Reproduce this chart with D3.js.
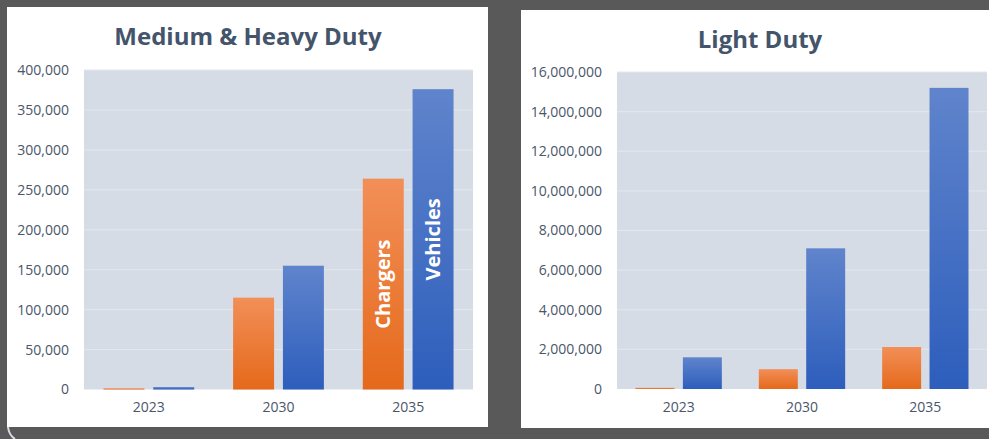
<!DOCTYPE html>
<html>
<head>
<meta charset="utf-8">
<script src="https://cdn.jsdelivr.net/npm/d3@7"></script>
<style>
  body { margin: 0; background: #595959; }
  svg { display: block; }
  text { font-family: "Open Sans", sans-serif; }
</style>
</head>
<body>
<div id="chart"></div>
<script>
// data
var years = ["2023", "2030", "2035"];
var series = ["Chargers", "Vehicles"];

var heavyChargers = [1500, 115000, 264000];
var heavyVehicles = [3000, 155000, 376000];
var heavyTicks = [0, 50000, 100000, 150000, 200000, 250000, 300000, 350000, 400000];

var lightChargers = [60000, 1000000, 2120000];
var lightVehicles = [1600000, 7100000, 15200000];
var lightTicks = [0, 2000000, 4000000, 6000000, 8000000, 10000000, 12000000, 14000000, 16000000];

var W = 989, H = 439;

var svg = d3.select("#chart").append("svg")
  .attr("width", W)
  .attr("height", H);

svg.append("rect").attr("width", W).attr("height", H).attr("fill", "#595959");

var defs = svg.append("defs");
function grad(id, top, bottom){
  var g = defs.append("linearGradient").attr("id", id)
    .attr("x1", 0).attr("y1", 0).attr("x2", 0).attr("y2", 1);
  g.append("stop").attr("offset", "0%").attr("stop-color", top);
  g.append("stop").attr("offset", "100%").attr("stop-color", bottom);
}
grad("grad-orange", "#F28F58", "#E5691A");
grad("grad-blue", "#6084CC", "#2D5EBC");
var fills = { Chargers: "url(#grad-orange)", Vehicles: "url(#grad-blue)" };

// little leftover corner at bottom left
svg.append("path")
  .attr("d", "M8,427 Q9,435 15,439")
  .attr("fill", "none")
  .attr("stroke", "#D6DCE5")
  .attr("stroke-width", 2);

function drawPanel(cfg){
  var g = svg.append("g");

  g.append("rect")
    .attr("x", cfg.panel[0]).attr("y", cfg.panel[1])
    .attr("width", cfg.panel[2]).attr("height", cfg.panel[3])
    .attr("fill", "#ffffff");

  var x = d3.scaleBand().domain(years).range([cfg.left, cfg.right]).padding(0);
  var y = d3.scaleLinear().domain([0, cfg.max]).range([cfg.bottom, cfg.top]);

  g.append("rect")
    .attr("x", cfg.left).attr("y", cfg.top)
    .attr("width", cfg.right - cfg.left).attr("height", cfg.bottom - cfg.top)
    .attr("fill", "#D6DCE5");

  g.selectAll(".grid")
    .data(cfg.ticks.slice(1))
    .enter().append("line")
    .attr("class", "grid")
    .attr("x1", cfg.left).attr("x2", cfg.right)
    .attr("y1", function(d){ return y(d); })
    .attr("y2", function(d){ return y(d); })
    .attr("stroke", "#E3E7EE")
    .attr("stroke-width", 1);

  g.append("text")
    .attr("x", cfg.titleX).attr("y", cfg.titleY)
    .attr("text-anchor", "middle")
    .attr("font-size", "24px")
    .attr("font-weight", "bold")
    .attr("fill", "#44546A")
    .text(cfg.title);

  // y axis labels
  var yAxis = g.append("g")
    .attr("transform", "translate(" + cfg.labelX + ",0)")
    .call(d3.axisLeft(y).tickValues(cfg.ticks).tickSize(0).tickPadding(0).tickFormat(d3.format(",")));
  yAxis.select(".domain").remove();
  yAxis.selectAll("text")
    .attr("font-family", "'Open Sans', sans-serif")
    .attr("font-size", "14px")
    .attr("fill", "#4A566A");

  // x axis labels
  var xAxis = g.append("g")
    .attr("transform", "translate(0," + cfg.bottom + ")")
    .call(d3.axisBottom(x).tickSize(0).tickPadding(13));
  xAxis.select(".domain").remove();
  xAxis.selectAll("text")
    .attr("font-family", "'Open Sans', sans-serif")
    .attr("font-size", "14px")
    .attr("fill", "#4A566A");

  var bw = x.bandwidth();
  var barW = bw * 0.316, gap = bw * 0.068;
  var sx = d3.scaleOrdinal().domain(series)
    .range([bw / 2 - gap / 2 - barW, bw / 2 + gap / 2]);

  var rows = [];
  years.forEach(function(yr, i){
    rows.push({year: yr, s: "Chargers", v: cfg.chargers[i]});
    rows.push({year: yr, s: "Vehicles", v: cfg.vehicles[i]});
  });

  g.selectAll(".bar")
    .data(rows)
    .enter().append("rect")
    .attr("class", "bar")
    .attr("x", function(d){ return x(d.year) + sx(d.s); })
    .attr("y", function(d){ return y(d.v); })
    .attr("width", barW)
    .attr("height", function(d){ return Math.max(1, y(0) - y(d.v)); })
    .attr("fill", function(d){ return fills[d.s]; });

  if (cfg.labels){
    var last = rows.filter(function(d){ return d.year == years[years.length - 1]; });
    g.selectAll(".bar-label")
      .data(last)
      .enter().append("text")
      .attr("class", "bar-label")
      .attr("transform", function(d){
        var cx = x(d.year) + sx(d.s) + barW / 2;
        var cy = (y(d.v) + y(0)) / 2;
        return "translate(" + cx + "," + cy + ") rotate(-90)";
      })
      .attr("text-anchor", "middle")
      .attr("dy", "0.35em")
      .attr("font-size", "20px")
      .attr("font-weight", "bold")
      .attr("fill", "#ffffff")
      .text(function(d){ return d.s; });
  }
}

drawPanel({
  panel: [7, 7, 481, 420],
  left: 84, right: 473, top: 70, bottom: 389.5,
  max: 400000, ticks: heavyTicks,
  chargers: heavyChargers, vehicles: heavyVehicles,
  title: "Medium & Heavy Duty", titleX: 248, titleY: 45,
  labelX: 69, labels: true
});

drawPanel({
  panel: [521, 10, 470, 418],
  left: 617, right: 987, top: 72, bottom: 389,
  max: 16000000, ticks: lightTicks,
  chargers: lightChargers, vehicles: lightVehicles,
  title: "Light Duty", titleX: 760, titleY: 48,
  labelX: 602, labels: false
});
</script>
</body>
</html>
